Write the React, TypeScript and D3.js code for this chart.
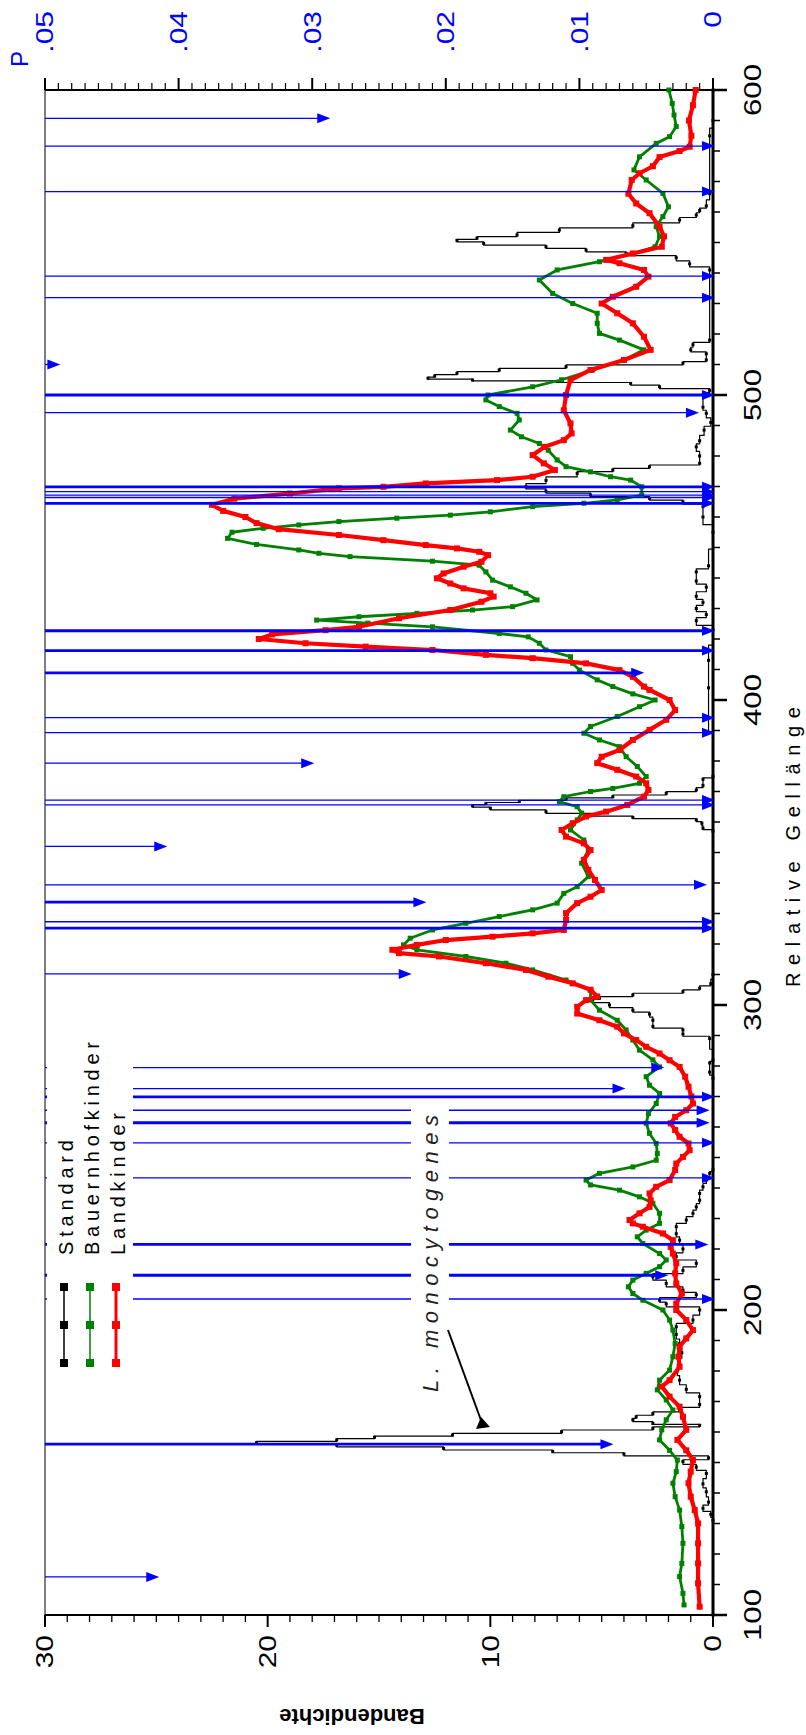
import React, { useEffect, useRef } from "react";
import * as d3 from "d3";

// [gel position, band density]
const standard: [number, number][] = [
  [100, 0], [131, 0], [133, 0.1], [135, 0.45], [137, 0.2], [140.4, 0.3], [143, 0.45], [146.4, 0.3], [148.5, 0.75],
  [150.3, 1.35], [151.5, 0.2], [152.8, 4.0], [153.6, 7.2], [154.6, 12.1], [155.7, 16.9], [156.5, 20.5], [157.4, 16.9],
  [158.3, 15.2], [159, 11.7], [160.1, 6.8], [161.2, 2.7], [162.2, 0.6], [162.8, 2.7], [164, 3.6], [165, 3.45],
  [166, 2.7], [167.2, 1.5], [169, 0.6], [171.6, 0.6], [174, 1.2], [177, 1.5], [180, 1.6], [182.5, 1.5], [186, 1.4],
  [189, 1.5], [192, 1.65], [194.5, 1.65], [196.7, 0.9], [200, 0.6], [202, 2.1], [203.2, 2.4], [205, 0.75],
  [206.5, 1.35], [208.7, 2.1], [210.9, 2.7], [213, 1.35], [215.3, 0.75], [217.5, 1.65], [220, 1.35], [222.9, 1.5],
  [225, 1.65], [227.3, 1.65], [229.5, 1.2], [231.7, 0.9], [233.8, 0.75], [236, 0.6], [238.2, 0.6], [240.4, 0.45],
  [242.6, 0.3], [244.8, 0.15], [246, 0], [276, 0], [278, 0.15], [281, 0.15], [282, 0], [289, 0.15], [290.5, 1.35],
  [291.8, 1.35], [293, 2.7], [295, 2.7], [297, 2.85], [298.3, 3.6], [300, 4.65], [301.6, 5.4], [302.2, 5.1],
  [303.3, 3.6], [304.4, 1.35], [305.5, 0.6], [307, 0.1], [310, 0], [357, 0], [358, 0.45], [359.6, 0.5], [360.7, 0.75],
  [361.5, 3.6], [362.3, 5.4], [363.4, 7.5], [364.5, 10.0], [365.3, 10.8], [366.1, 10.2], [366.7, 8.7], [367.5, 6.6],
  [368.3, 4.5], [369.4, 2.1], [370.5, 0.75], [372, 0.45], [374, 0.45], [375, 0], [404, 0.2], [413, 0.2], [423, 0],
  [426, 0.75], [428, 0.3], [430, 0.75], [432, 0.45], [434, 0.75], [437, 0.3], [439, 0.75], [442, 0.75], [444, 0.2],
  [455, 0], [460, 0.45], [463.4, 0.45], [465, 1.35], [466.1, 2.85], [467.2, 5.5], [468.5, 7.5], [469.9, 8.4],
  [472, 7.5], [474.3, 6.1], [475.4, 4.5], [476.5, 2.85], [477.6, 0.6], [480, 0.6], [483, 0.75], [485, 0.6],
  [488.5, 0.4], [491, 0.1], [494, 0.3], [496, 0.45], [500, 0.45], [501.5, 0.15], [502.7, 2.4], [503.8, 3.7],
  [504.4, 7], [504.9, 10.8], [505.5, 12.8], [506.2, 12.5], [507.1, 11.5], [508.2, 9.6], [509.3, 6.6], [510.4, 1.35],
  [511.5, 0.3], [513.5, 0.3], [514.8, 1.0], [516.5, 0.9], [518, 0.15], [541, 0.15], [543, 1.05], [545, 1.65],
  [546.4, 3.9], [547.5, 5.7], [548.6, 7.5], [549.7, 10.3], [550.7, 11.5], [551.4, 10.6], [552.5, 8.8], [554.1, 6.9],
  [555.5, 3.6], [557.4, 1.5], [559, 0.75], [560.5, 0.6], [562, 0.3], [566, 0.15], [585, 0.15], [590, 0], [600, 0],
];

const bauernhof: [number, number][] = [
  [103.3, 1.3], [107.1, 1.35], [112.6, 1.5], [116.9, 1.4], [123.5, 1.35], [129, 1.4], [134.4, 1.5], [138.8, 1.7],
  [143.2, 1.8], [147, 1.65], [150.8, 1.6], [154, 1.95], [157.4, 2.4], [160.7, 2.3], [164, 2.1], [167.2, 1.8],
  [170.5, 2.1], [173.8, 2.5], [177, 2.4], [180.3, 1.95], [184.7, 1.8], [189, 1.7], [193.4, 1.8], [196.7, 1.95],
  [200, 2.25], [203.2, 3.15], [205.4, 3.6], [207.6, 3.8], [209.8, 3.6], [212, 3.0], [214.2, 2.4], [216.4, 2.1],
  [218.5, 2.4], [221.8, 3.15], [224, 3.4], [226.2, 3.0], [228.4, 2.4], [231.7, 2.4], [235, 2.7], [237.1, 3.3],
  [239.3, 4.2], [241, 5.5], [242.6, 5.7], [244.8, 5.1], [246.9, 3.6], [249.1, 2.55], [251.3, 2.5], [254.6, 2.55],
  [257.9, 2.85], [261.2, 3.0], [264.4, 2.9], [267.7, 2.55], [271, 2.4], [273.7, 2.85], [276.5, 3.0], [279.7, 2.4],
  [282, 2.7], [285.2, 3.3], [288.5, 3.6], [291.8, 3.9], [295, 4.3], [298.3, 5.1], [301.6, 5.5], [305, 5.5],
  [308.2, 6.6], [311.5, 8.1], [313.7, 9.3], [315.9, 11.1], [318.1, 13.3], [319.7, 13.9], [321.9, 13.6], [324.6, 12.6],
  [326.8, 11.1], [329, 9.6], [331.2, 8.1], [333.4, 7.0], [336.6, 6.7], [338.8, 6.1], [342.1, 5.6], [346.5, 5.9],
  [350.8, 5.6], [354.1, 5.8], [357.4, 6.4], [360.7, 6.1], [362.9, 5.9], [365, 6.1], [366.7, 6.9], [368.3, 6.7],
  [370, 5.5], [371, 4.5], [372.7, 3.3], [374.9, 3.0], [378.2, 3.4], [381.4, 3.9], [384.7, 4.2], [386.9, 5.1],
  [389.1, 5.8], [391.3, 5.5], [394.6, 4.3], [397.8, 3.3], [400, 2.6], [402, 3.6], [404.4, 4.5], [406.6, 5.2],
  [409.8, 6.0], [412, 6.3], [414.2, 6.4], [416.4, 7.5], [418.6, 7.8], [420.7, 8.3], [421.8, 9.6], [424, 12.6],
  [425.2, 15.5], [426.2, 17.8], [427.3, 15.9], [428.4, 13.3], [429.5, 10.8], [430.6, 9.0], [432.8, 7.9], [435, 8.4],
  [437.1, 9.1], [439.3, 9.9], [442, 10.2], [444.2, 10.5], [445.5, 12.6], [447, 16.3], [448.1, 17.7], [449.2, 18.6],
  [451, 20.5], [453, 21.8], [455, 21.6], [456.3, 20.2], [457.4, 18.6], [458.5, 16.8], [459.6, 14.2], [460.6, 11.8],
  [461.7, 10.0], [463.4, 8.1], [464.5, 5.8], [465.6, 4.3], [467.2, 3.2], [469.9, 3.2], [472.1, 3.7], [473.2, 4.6],
  [474.8, 5.5], [476.5, 6.6], [478.7, 7.0], [481.9, 7.4], [484.1, 7.8], [486.3, 8.6], [488.5, 9.1], [491.8, 8.7],
  [494, 8.8], [496.2, 9.6], [498.4, 10.2], [500, 10.1], [502.7, 8.1], [505, 6.8], [508.2, 5.4], [511.5, 4.0],
  [514.8, 3.1], [518, 4.2], [520.2, 5.1], [523.5, 5.2], [526.8, 5.2], [530, 6.3], [533.3, 7.2], [537.7, 7.8],
  [541, 7.0], [543.7, 5.1], [546.4, 3.6], [548.6, 2.6], [551.9, 2.4], [555.2, 2.55], [558.5, 2.25], [561.7, 2.0],
  [566.1, 2.25], [570.5, 3.0], [573.8, 3.55], [578.1, 3.3], [582.5, 2.55], [584.7, 1.95], [588, 1.65], [591.8, 1.75],
  [595.6, 1.83], [600, 1.98],
];

const landkinder: [number, number][] = [
  [102.7, 0.6], [110.4, 0.67], [116.9, 0.67], [123.5, 0.67], [130, 0.67], [134.4, 0.82], [138.8, 1.0], [143.2, 1.1],
  [147, 1.0], [150.8, 0.9], [154, 1.2], [157.4, 1.6], [160.7, 1.2], [165, 1.35], [168.3, 1.5], [171.6, 1.95],
  [174.9, 2.3], [177, 1.95], [181.4, 1.5], [184.7, 1.55], [188, 1.5], [190.7, 1.2], [193.4, 0.9], [196.7, 1.2],
  [200, 1.65], [202.1, 1.65], [205.4, 1.4], [208.7, 1.65], [212, 1.7], [215.3, 1.65], [218.5, 1.8], [220.7, 1.9],
  [222.9, 1.8], [225.1, 2.25], [227.3, 3.15], [228.4, 3.6], [229.5, 3.75], [231.7, 3.3], [233.8, 2.85], [236, 2.8],
  [238.2, 2.85], [240.4, 2.55], [242.6, 1.95], [245.9, 1.7], [248, 1.65], [250.2, 1.35], [252.4, 1.05], [254.6, 1.1],
  [256.8, 1.5], [259, 1.7], [261.2, 1.9], [263.3, 1.7], [265.5, 1.2], [267.7, 0.9], [270, 0.97], [273.2, 1.1],
  [276.5, 1.25], [279.7, 1.5], [281.9, 1.95], [284.1, 2.4], [286.3, 3.0], [288.5, 3.45], [290.7, 4.0], [292.9, 4.3],
  [295, 5.1], [297.2, 6.1], [299.4, 6.1], [301.6, 5.7], [302.8, 5.2], [305, 5.5], [307.1, 6.3], [309.3, 7.4],
  [311.5, 8.4], [313.7, 10.2], [315.9, 12.3], [317, 14.1], [318.1, 14.4], [319.7, 13.3], [321.3, 12.0], [322.4, 9.9],
  [323.5, 8.1], [324.6, 6.7], [327.9, 6.6], [330.1, 6.6], [333.4, 6.1], [335.5, 5.5], [337.7, 5.0], [341, 5.3],
  [344.3, 5.6], [347.6, 5.8], [350.8, 5.5], [353, 5.8], [355.2, 6.6], [357.4, 6.8], [359.6, 6.3], [361.8, 5.7],
  [363.4, 4.8], [365.6, 3.85], [368.3, 3.1], [370.5, 2.9], [372.7, 3.0], [374.9, 3.45], [377.1, 4.3], [379.3, 5.2],
  [381.4, 5.0], [383.6, 4.2], [386.9, 3.6], [390.2, 2.85], [393.5, 2.1], [396.7, 1.7], [400, 1.95], [403.3, 2.85],
  [404.4, 3.1], [407.6, 3.6], [409.8, 4.2], [412, 5.7], [413.7, 8.1], [414.8, 10.2], [416.4, 12.6], [417.5, 15.6],
  [418.6, 18.3], [420, 20.4], [421.5, 19.8], [422.9, 17.4], [424, 15.9], [426.8, 14.1], [429.5, 11.8], [432.2, 10.4],
  [433.9, 9.85], [435, 10.0], [436.6, 11.2], [438.2, 11.8], [439.9, 12.4], [441.5, 12.1], [443.7, 11.2], [445.3, 10.4],
  [447.5, 10.1], [448.6, 10.5], [449.7, 11.5], [450.8, 12.9], [452.4, 14.8], [454.1, 16.8], [456, 19.5], [458, 20.5],
  [460, 21], [462, 22], [464, 22.5], [466, 21.5], [467.7, 19], [469.4, 16.8], [469.9, 14.8], [471, 12.9],
  [472.1, 9.7], [473.2, 8.1], [475.4, 7.1], [477.6, 7.6], [480.3, 8.1], [483, 7.55], [485.2, 6.7], [487.4, 6.35],
  [490.7, 6.4], [495, 6.7], [500, 6.6], [504.9, 6.4], [508.2, 5.5], [511.5, 4.0], [514.8, 2.8], [519.1, 3.1],
  [523.5, 3.6], [526.8, 4.3], [530, 5.0], [532.2, 4.5], [535.5, 3.45], [538.8, 2.9], [541, 3.1], [543.2, 4.2],
  [544.3, 4.8], [546.4, 3.6], [548.6, 2.3], [552, 2.2], [555.2, 2.4], [559.6, 2.85], [562.8, 3.45], [566, 3.8],
  [570.5, 3.65], [572.7, 3.3], [575, 2.7], [578, 2.4], [580, 1.5], [581.4, 1.05], [585, 0.97], [590, 1.08],
  [595, 0.9], [600, 0.78],
];

// [gel position, p value, bold line (1) or thin (0)]
const pMarks: [number, number, number][] = [
  [112.5, 0.0416, 0], [156, 0.0076, 1], [203.6, 0, 0], [211.4, 0.0035, 1], [221.5, 0.0005, 1], [243.3, 0, 0],
  [254.8, 0, 0], [261.4, 0.0004, 1], [265.5, 0.0004, 0], [269.9, 0, 1], [272.6, 0.0067, 0], [279.5, 0.0038, 0],
  [310.2, 0.0227, 0], [325.2, 0, 1], [327.3, 0, 0], [333.7, 0.0216, 1], [339.4, 0.0006, 0], [352, 0.041, 0],
  [365.6, 0, 0], [367.2, 0, 0], [379.3, 0.03, 0], [389.3, 0, 0], [394.2, 0, 0], [408.9, 0.0053, 1], [416.2, 0, 1],
  [422.7, 0, 1], [464.5, 0, 1], [466.4, 0, 0], [467.2, 0, 0], [468.3, 0, 0], [469.9, 0, 1], [494.2, 0.0012, 0],
  [500, 0, 1], [510, 0.049, 0], [531.9, 0, 0], [539, 0, 0], [566.7, 0, 0], [581.6, 0, 0], [590.7, 0.0288, 0],
];

const gelLabels = [100, 200, 300, 400, 500, 600];
const densityLabels = [0, 10, 20, 30];
const pLabelValues = [0, 0.01, 0.02, 0.03, 0.04, 0.05];
const pLabelTexts = ["0", ".01", ".02", ".03", ".04", ".05"];
const legendNames = ["Standard", "Bauernhofkinder", "Landkinder"];
const legendColors = ["#000000", "#008000", "#ff0000"];

const W = 806;
const H = 1735;
const FONT = "Liberation Sans, Arial, Helvetica, sans-serif";
const BLUE = "#0000ff";

export default function App() {
  const ref = useRef<SVGSVGElement>(null);

  useEffect(() => {
    const svg = d3.select(ref.current);
    svg.selectAll("*").remove();

    // chart is drawn landscape, then turned a quarter counter-clockwise
    const g = svg.append("g").attr("transform", `translate(0,${H}) rotate(-90)`);

    const x = d3.scaleLinear().domain([100, 600]).range([120, 1645]);
    const y = d3.scaleLinear().domain([0, 30]).range([713, 45]);
    const p = d3.scaleLinear().domain([0, 0.05]).range([713, 45]);

    // frame
    const frame = [
      [120, 713, 1645, 713, 3],
      [120, 45, 120, 713, 2],
      [1645, 45, 1645, 713, 2],
      [120, 45, 1645, 45, 1],
    ];
    frame.forEach(([x1, y1, x2, y2, w]) =>
      g.append("line").attr("x1", x1).attr("y1", y1).attr("x2", x2).attr("y2", y2)
        .attr("stroke", "#000").attr("stroke-width", w)
    );

    // bottom axis ticks (gel length)
    d3.range(100, 601, 10).forEach((v) => {
      g.append("line")
        .attr("x1", x(v)).attr("x2", x(v))
        .attr("y1", y(0)).attr("y2", y(0) + (v % 100 === 0 ? 14 : 7))
        .attr("stroke", "#000").attr("stroke-width", v % 100 === 0 ? 2.5 : 1.5);
    });
    gelLabels.forEach((v) => {
      g.append("text")
        .attr("transform", `translate(${x(v)},${753}) scale(1.3,1)`)
        .attr("text-anchor", "middle").attr("dominant-baseline", "central")
        .attr("font-family", FONT).attr("font-size", 24).text(v);
    });

    // left axis (density)
    d3.range(0, 31, 1).forEach((v) => {
      g.append("line")
        .attr("x1", x(100)).attr("x2", x(100) - (v % 10 === 0 ? 12 : 7))
        .attr("y1", y(v)).attr("y2", y(v))
        .attr("stroke", "#000").attr("stroke-width", v % 10 === 0 ? 2 : 1.3);
    });
    densityLabels.forEach((v) => {
      g.append("text")
        .attr("transform", `translate(100,${y(v)}) scale(1.25,1)`)
        .attr("text-anchor", "end").attr("dominant-baseline", "central")
        .attr("font-family", FONT).attr("font-size", 24).text(v);
    });

    // right axis (p)
    d3.range(0, 51).forEach((i) => {
      const v = i / 1000;
      g.append("line")
        .attr("x1", x(600)).attr("x2", x(600) + (i % 10 === 0 ? 12 : 7))
        .attr("y1", p(v)).attr("y2", p(v))
        .attr("stroke", "#000").attr("stroke-width", i % 10 === 0 ? 2 : 1.2);
    });
    pLabelValues.forEach((v, i) => {
      g.append("text")
        .attr("transform", `translate(1724,${p(v)}) scale(1.25,1)`)
        .attr("text-anchor", "end").attr("dominant-baseline", "central")
        .attr("font-family", FONT).attr("font-size", 24).attr("fill", BLUE)
        .text(pLabelTexts[i]);
    });
    g.append("text")
      .attr("x", 1668).attr("y", 28)
      .attr("font-family", FONT).attr("font-size", 24).attr("fill", BLUE)
      .text("P");

    // axis titles
    g.append("text")
      .attr("x", 888 - 140).attr("y", 793)
      .attr("dominant-baseline", "central")
      .attr("textLength", 280).attr("lengthAdjust", "spacing")
      .attr("font-family", FONT).attr("font-size", 20)
      .text("Relative Gellänge");
    g.append("text")
      .attr("transform", `translate(19,${y(15) - 27}) rotate(-90)`)
      .attr("text-anchor", "middle").attr("dominant-baseline", "central")
      .attr("font-family", FONT).attr("font-size", 22).attr("font-weight", "bold")
      .text("Bandendichte");

    // series
    const line = d3.line<[number, number]>().x((d) => x(d[0])).y((d) => y(d[1]));
    const stepLine = d3.line<[number, number]>().x((d) => x(d[0])).y((d) => y(d[1])).curve(d3.curveStep);
    const series: [[number, number][], string, number, number, boolean][] = [
      [standard, legendColors[0], 1.2, 3, true],
      [bauernhof, legendColors[1], 2.8, 5, false],
      [landkinder, legendColors[2], 4.2, 6, false],
    ];
    series.forEach(([data, color, w, m, step]) => {
      g.append("path").attr("d", (step ? stepLine : line)(data)).attr("fill", "none")
        .attr("stroke", color).attr("stroke-width", w).attr("stroke-linejoin", "round");
      g.append("g").selectAll("rect").data(data).join("rect")
        .attr("x", (d) => x(d[0]) - m / 2).attr("y", (d) => y(d[1]) - m / 2)
        .attr("width", m).attr("height", m).attr("fill", color);
    });

    // p-value markers
    pMarks.forEach(([gel, pv, bold]) => {
      const tip = p(pv);
      g.append("line")
        .attr("x1", x(gel)).attr("x2", x(gel))
        .attr("y1", p(0.05)).attr("y2", tip - 6)
        .attr("stroke", BLUE).attr("stroke-width", bold ? 2.8 : 1.3);
      g.append("path")
        .attr("d", `M${x(gel) - 5},${tip - 11}L${x(gel) + 5},${tip - 11}L${x(gel)},${tip + 2}Z`)
        .attr("fill", BLUE);
    });

    // legend
    g.append("rect").attr("x", 355).attr("y", 47).attr("width", 340).attr("height", 86).attr("fill", "#fff");
    legendNames.forEach((name, i) => {
      const row = 64 + i * 26;
      const c = legendColors[i];
      g.append("line").attr("x1", 368).attr("x2", 452).attr("y1", row).attr("y2", row)
        .attr("stroke", c).attr("stroke-width", i === 2 ? 3 : 1.5);
      [372, 410, 448].forEach((cx) =>
        g.append("rect").attr("x", cx - 4).attr("y", row - 4).attr("width", 8).attr("height", 8).attr("fill", c)
      );
      g.append("text")
        .attr("x", 480).attr("y", row + 2)
        .attr("dominant-baseline", "central")
        .attr("textLength", [115, 213, 142][i]).attr("lengthAdjust", "spacing")
        .attr("font-family", FONT).attr("font-size", 20)
        .text(name);
    });

    // annotation
    g.append("rect").attr("x", 335).attr("y", 411).attr("width", 295).attr("height", 38).attr("fill", "#fff");
    g.append("text")
      .attr("x", 343).attr("y", 430)
      .attr("dominant-baseline", "central")
      .attr("textLength", 277).attr("lengthAdjust", "spacing")
      .attr("font-family", FONT).attr("font-size", 22).attr("font-style", "italic").attr("fill", "#222")
      .text("L. monocytogenes");
    g.append("line").attr("x1", 405).attr("y1", 448).attr("x2", 312).attr("y2", 482)
      .attr("stroke", "#000").attr("stroke-width", 2);
    g.append("path").attr("d", "M308,490L306,476L318,481Z").attr("fill", "#000");
  }, []);

  return (
    <svg
      ref={ref}
      width={W}
      height={H}
      style={{ position: "absolute", left: 0, top: 0, background: "#fff" }}
    />
  );
}
